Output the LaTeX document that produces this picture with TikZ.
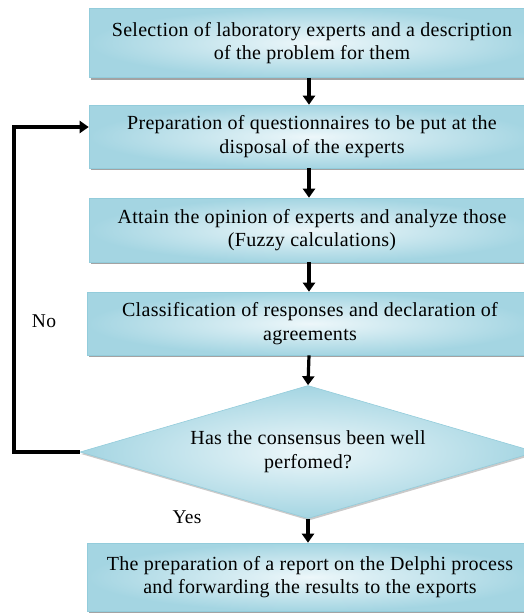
\documentclass[tikz,border=0pt]{standalone}
\usepackage{fontspec}
\setmainfont{Liberation Serif}[LetterSpace=1.5]
\usetikzlibrary{shapes.geometric,arrows.meta,shadows}
\definecolor{boxout}{HTML}{A4D5E2}
\definecolor{boxin}{HTML}{EDF7FA}
\definecolor{boxline}{HTML}{93CCDB}
\tikzset{
  stepbox/.style={rectangle, draw=boxline, line width=0.6pt, inner color=boxin, outer color=boxout,
    minimum width=446pt, align=center, font=\fontsize{20}{23.5}\selectfont,
    drop shadow={shadow xshift=1.5pt, shadow yshift=-2pt, fill=black!45, opacity=0.8}},
  decision/.style={diamond, aspect=3.4, draw=boxline, line width=0.6pt, inner color=boxin, outer color=boxout,
    minimum width=456pt, minimum height=133pt, inner sep=0pt, align=center, font=\fontsize{20}{24}\selectfont,
    drop shadow={shadow xshift=1pt, shadow yshift=-2pt, fill=black!35, opacity=0.6}},
  flow/.style={line width=3.2pt, -{Triangle[width=12pt,length=9pt]}},
  lbl/.style={font=\fontsize{19.5}{20}\selectfont}
}
\begin{document}
\begin{tikzpicture}[x=1pt,y=-1pt]
\useasboundingbox (0,0) rectangle (523,614);
\node[stepbox, minimum height=69pt] (s1) at (312,43) {Selection of laboratory experts and a description\\ of the problem for them};
\node[stepbox, minimum height=63pt] (s2) at (312,136.5) {Preparation of questionnaires to be put at the\\ disposal of the experts};
\node[stepbox, minimum height=64pt] (s3) at (312,230) {Attain the opinion of experts and analyze those\\ (Fuzzy calculations)};
\node[stepbox, minimum height=63pt] (s4) at (310,323.5) {Classification of responses and declaration of\\ agreements};
\node[decision] (d) at (308,452) {Has the consensus been well\\ perfomed?};
\node[stepbox, minimum height=68pt] (s5) at (310,577) {The preparation of a report on the Delphi process\\ and forwarding the results to the exports};
\coordinate (c1) at (14,452);
\coordinate (c2) at (14,127);
\draw[flow] (s1.south -| 309,0) -- (s2.north -| 309,0);
\draw[flow] (s2.south -| 309,0) -- (s3.north -| 309,0);
\draw[flow] (s3.south -| 309,0) -- (s4.north -| 309,0);
\draw[flow] (s4.south -| 309,0) -- (d.north);
\draw[flow] (d.south) -- (s5.north -| 308,0);
\draw[flow, line join=miter] (d.west) -- (c1) -- (c2) -- (s2.west |- c2);
\node[lbl] (no) at (44,321) {No};
\node[lbl] (yes) at (187,517) {Yes};
\end{tikzpicture}
\end{document}
